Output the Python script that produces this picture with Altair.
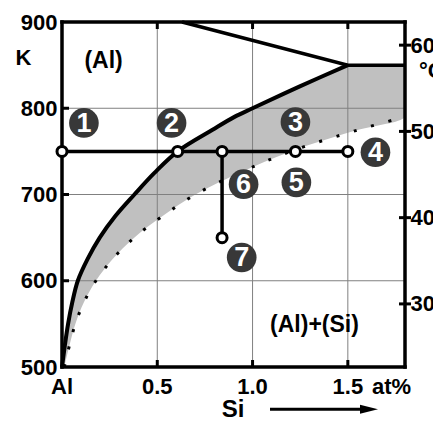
import altair as alt
import pandas as pd

# ---------------- data ----------------
T_levels = [500, 525, 550, 575, 600, 625, 650, 675, 700, 725, 750, 775, 790, 800, 825, 850]
solvus_x = [0.0, 0.015, 0.032, 0.054, 0.083, 0.134, 0.198, 0.28, 0.38, 0.485, 0.607, 0.79, 0.905, 1.0, 1.245, 1.5]
gray_right_x = [0.012, 0.039, 0.07, 0.115, 0.178, 0.265, 0.379, 0.528, 0.70, 0.93, 1.2, 1.555, 1.8, 1.8, 1.8, 1.8]

dotted_T = [500, 525, 550, 575, 600, 625, 650, 675, 700, 725, 750, 775, 790]
dotted_x = [0.012, 0.039, 0.07, 0.115, 0.178, 0.265, 0.379, 0.528, 0.70, 0.93, 1.2, 1.555, 1.8]

liquidus_x = [0.63, 1.5, 1.8]
liquidus_T = [900, 850, 850]

path_x1 = [0.0, 0.84]
path_x2 = [1.5, 0.84]
path_T1 = [750, 750]
path_T2 = [750, 650]

node_x = [0.0, 0.607, 0.84, 1.225, 1.5, 0.84]
node_T = [750, 750, 750, 750, 750, 650]

num_text = ["1", "2", "3", "4", "5", "6", "7"]
num_x = [0.115, 0.575, 1.225, 1.645, 1.23, 0.953, 0.943]
num_T = [783, 783, 784, 749, 714, 712, 627]

phase_text = ["(Al)", "(Al)+(Si)"]
phase_x = [0.218, 1.325]
phase_T = [855, 549]

x_ticks = [0, 0.5, 1.0, 1.5]
x_tick_text = ["Al", "0.5", "1.0", "1.5"]
K_ticks = [500, 600, 700, 800, 900]
C_ticks = [300, 400, 500, 600]
grid_x = [0.5, 1.0, 1.5]
grid_T = [600, 700, 800]
X_DOMAIN = [0, 1.8]
T_DOMAIN = [500, 900]

# ---------------- tables ----------------
solvus_df = pd.DataFrame({"T": T_levels, "xs": solvus_x, "xr": gray_right_x})
dotted_df = pd.DataFrame({"T": dotted_T, "x": dotted_x})
liq_df = pd.DataFrame({"T": liquidus_T, "x": liquidus_x})
path_df = pd.DataFrame({"x1": path_x1, "x2": path_x2, "T1": path_T1, "T2": path_T2})
node_df = pd.DataFrame({"x": node_x, "T": node_T})
num_df = pd.DataFrame({"t": num_text, "x": num_x, "T": num_T})
phase_df = pd.DataFrame({"t": phase_text, "x": phase_x, "T": phase_T})
gx_df = pd.DataFrame({"x": grid_x})
gT_df = pd.DataFrame({"T": grid_T})
fx_df = pd.DataFrame({"x": X_DOMAIN})
fT_df = pd.DataFrame({"T": T_DOMAIN})
bt_df = pd.DataFrame({"x": grid_x, "T": [T_DOMAIN[0]] * 3})
tt_df = pd.DataFrame({"x": grid_x, "T": [T_DOMAIN[1]] * 3})
lt_df = pd.DataFrame({"x": [X_DOMAIN[0]] * 3, "T": grid_T})
rt_df = pd.DataFrame({"x": [X_DOMAIN[1]] * 4, "T": [c + 273.15 for c in C_ticks]})
xl_df = pd.DataFrame({"x": x_ticks, "t": x_tick_text})

xs = alt.Scale(domain=X_DOMAIN, nice=False, zero=False)
ys = alt.Scale(domain=T_DOMAIN, nice=False, zero=False)
FONT = "Liberation Sans"


def X(f, axis=None):
    return alt.X(f, type="quantitative", scale=xs, axis=axis)


def Y(f, axis=None):
    return alt.Y(f, type="quantitative", scale=ys, axis=axis)


gray = alt.Chart(solvus_df).mark_area(
    orient="horizontal", interpolate="catmull-rom", color="#c0c0c0", clip=True
).encode(y=Y("T"), x=X("xs"), x2="xr")

grid_v = alt.Chart(gx_df).mark_rule(color="#808080", strokeWidth=1).encode(x=X("x"))
grid_h = alt.Chart(gT_df).mark_rule(color="#808080", strokeWidth=1).encode(y=Y("T"))

dotted = alt.Chart(dotted_df).mark_line(
    interpolate="catmull-rom", color="black", strokeWidth=3, strokeDash=[3, 15], clip=True
).encode(x=X("x"), y=Y("T"), order="T:Q")

solvus = alt.Chart(solvus_df).mark_line(
    interpolate="catmull-rom", color="black", strokeWidth=4
).encode(x=X("xs"), y=Y("T"), order="T:Q")

liquidus = alt.Chart(liq_df).mark_line(color="black", strokeWidth=3.5).encode(
    x=X("x"), y=Y("T")
)

left_axis = alt.Axis(
    values=K_ticks, format="d",
    labelFont=FONT, labelFontWeight="bold", labelFontSize=22, labelColor="black",
    labelPadding=5, ticks=False, domain=False, grid=False, title=None,
    labelFlush=False, labelOverlap=False,
)
right_axis = alt.Axis(
    orient="right",
    values=[c + 273.15 for c in C_ticks],
    labelExpr="format(datum.value - 273.15, '.0f')",
    labelFont=FONT, labelFontWeight="bold", labelFontSize=22, labelColor="black",
    labelPadding=5, ticks=False, domain=False, grid=False, title=None,
    labelFlush=False, labelOverlap=False,
)

frame_v = alt.Chart(fx_df).mark_rule(color="black", strokeWidth=3.5, strokeCap="square").encode(
    x=X("x")
)
frame_h = alt.Chart(fT_df).mark_rule(color="black", strokeWidth=3.5, strokeCap="square").encode(
    y=Y("T", left_axis)
)

tick_b = alt.Chart(bt_df).mark_tick(orient="vertical", size=14, thickness=3, color="black",
                                    opacity=1, clip=True).encode(x=X("x"), y=Y("T"))
tick_t = alt.Chart(tt_df).mark_tick(orient="vertical", size=14, thickness=3, color="black",
                                    opacity=1, clip=True).encode(x=X("x"), y=Y("T"))
tick_l = alt.Chart(lt_df).mark_tick(orient="horizontal", size=14, thickness=3, color="black",
                                    opacity=1, clip=True).encode(x=X("x"), y=Y("T"))
tick_r = alt.Chart(rt_df).mark_tick(orient="horizontal", size=12, thickness=3, color="black",
                                    opacity=1).encode(x=X("x"), y=Y("T", right_axis))

# x tick labels as text placed by the x scale, just below the plot
x_labels = alt.Chart(xl_df).mark_text(
    font=FONT, fontWeight="bold", fontSize=22, color="black", align="center",
    baseline="alphabetic"
).encode(x=X("x"), y=alt.value(371.5), text="t:N")

path = alt.Chart(path_df).mark_rule(color="black", strokeWidth=3.5).encode(
    x=X("x1"), x2="x2", y=Y("T1"), y2="T2"
)

nodes = alt.Chart(node_df).mark_point(
    shape="circle", filled=True, fill="white", stroke="black", strokeWidth=3, size=100, opacity=1
).encode(x=X("x"), y=Y("T"))

num_circ = alt.Chart(num_df).mark_point(
    shape="circle", filled=True, color="#383838", size=880, opacity=1
).encode(x=X("x"), y=Y("T"))

num_lab = alt.Chart(num_df).mark_text(
    font=FONT, fontWeight="bold", fontSize=27, color="white", align="center",
    baseline="middle", dy=1
).encode(x=X("x"), y=Y("T"), text="t:N")

phase = alt.Chart(phase_df).mark_text(
    font=FONT, fontWeight="bold", fontSize=23, color="black", align="center", baseline="middle"
).encode(x=X("x"), y=Y("T"), text="t:N")

txt_K = alt.Chart(pd.DataFrame({"t": ["K"]})).mark_text(
    font=FONT, fontWeight="bold", fontSize=22, color="black", align="center", baseline="middle"
).encode(x=alt.value(-38.5), y=alt.value(35.5), text="t:N")

txt_C = alt.Chart(pd.DataFrame({"t": ["°C"]})).mark_text(
    font=FONT, fontWeight="bold", fontSize=22, color="black", align="left", baseline="middle"
).encode(x=alt.value(357), y=alt.value(49), text="t:N")

txt_at = alt.Chart(pd.DataFrame({"t": ["at%"]})).mark_text(
    font=FONT, fontWeight="bold", fontSize=22, color="black", align="left", baseline="alphabetic"
).encode(x=alt.value(310), y=alt.value(371.5), text="t:N")

txt_si = alt.Chart(pd.DataFrame({"t": ["Si"]})).mark_text(
    font=FONT, fontWeight="bold", fontSize=24, color="black", align="center", baseline="middle"
).encode(x=alt.value(171), y=alt.value(388), text="t:N")

arrow_line = alt.Chart(pd.DataFrame({"t": ["a"]})).mark_rule(color="black", strokeWidth=3).encode(
    x=alt.value(208), x2=alt.value(301), y=alt.value(387.3)
)
arrow_head = alt.Chart(pd.DataFrame({"t": ["a"]})).mark_point(
    shape="M-1,-0.5L1,0L-1,0.5Z", filled=True, color="black", size=324, opacity=1
).encode(x=alt.value(307), y=alt.value(387.3))

chart = alt.layer(
    gray, grid_v, grid_h, dotted, solvus, liquidus,
    frame_v, frame_h, tick_b, tick_t, tick_l, tick_r,
    path, nodes, num_circ, num_lab, phase, x_labels,
    txt_K, txt_C, txt_at, txt_si, arrow_line, arrow_head,
).resolve_axis(
    y="independent"
).properties(
    width=343, height=345,
    autosize=alt.AutoSizeParams(type="none"),
    padding={"left": 62, "top": 22, "right": 28, "bottom": 66},
).configure_view(stroke=None)

chart.save("out.html", embed_options={"renderer": "svg", "actions": False})
